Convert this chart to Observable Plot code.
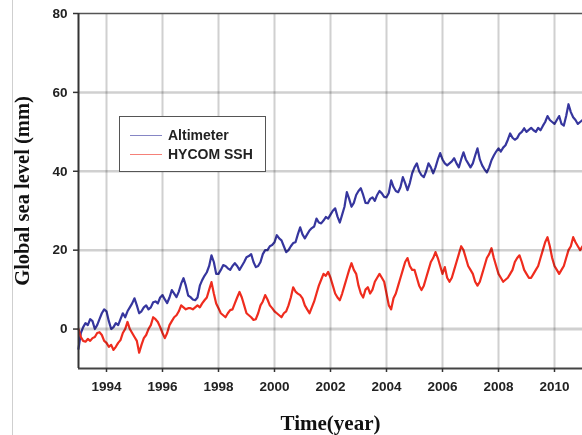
<!DOCTYPE html>
<html>
<head>
<meta charset="utf-8">
<script src="https://cdn.jsdelivr.net/npm/d3@7"></script>
<script src="https://cdn.jsdelivr.net/npm/@observablehq/plot@0.6"></script>
<style>
  html, body { margin: 0; padding: 0; background: #fff; }
  #wrap { position: relative; width: 582px; height: 435px; overflow: hidden; }
  #border { position: absolute; left: 12px; top: 0; width: 0; height: 435px; border-left: 1px solid #cfcfcf; }
  #legend { position: absolute; left: 119px; top: 116px; width: 145px; height: 54px; border: 1.5px solid #555; background: #fff;
            font-family: "Liberation Sans", Arial, sans-serif; font-weight: bold; font-size: 14px; color: #222; }
  .sw { position: absolute; left: 10px; width: 32px; height: 0; }
  .lb { position: absolute; left: 48px; line-height: 14px; }
</style>
</head>
<body>
<div id="wrap">
  <div id="chart"></div>
  <div id="border"></div>
  <div id="legend"></div>
</div>
<script>
const startYear = 1993;
const stepsPerYear = 12;
const seriesNames = ["Altimeter", "HYCOM SSH"];
const seriesColors = ["#36369e", "#ef2c1e"];
const xTicks = [1994, 1996, 1998, 2000, 2002, 2004, 2006, 2008, 2010];
const yTicks = [0, 20, 40, 60, 80];
const xLabel = "Time(year)";
const yLabel = "Global sea level (mm)";

// Altimeter, monthly from Jan 1993
const altimeter = [
  -5, -1, 0.5, 1.5, 1, 2.5, 2, 0, 1, 2.5, 4, 5,
  4.5, 2, 0, 0.5, 1.5, 1, 2.5, 4, 3, 4.5, 5.5, 6.5,
  7.8, 6, 4, 4.5, 5.5, 6, 5, 5.5, 6.8, 7, 6.5, 8,
  8.6, 7.5, 6.6, 8, 9.9, 9, 8.1, 9.5, 11.5, 12.9, 11, 8.5,
  8.1, 7.5, 7.3, 8, 11, 12.4, 13.5, 14.4, 16, 18.7, 17, 14,
  14, 15, 16.2, 16, 15.4, 15, 16, 16.7, 16, 15, 16, 17,
  18.2, 18.5, 19, 17, 15.7, 16, 17, 19, 20, 20, 21, 21.3,
  22, 23.8, 23, 22.5, 21, 19.5, 20, 21, 21.8, 22, 24, 25.8,
  24, 23, 24, 25, 25.6, 26, 28, 27, 26.8, 27.5, 28.4, 28,
  29, 30, 30.6, 28.5, 27, 29, 31, 34.7, 33, 31, 32, 34,
  35, 35.7, 34, 32, 31.9, 33, 33.4, 32.5, 34, 35, 34.4, 33.5,
  33.4, 34.5, 37.7, 36, 35, 34.7, 36, 38.5, 37, 35.2, 37, 39.5,
  41, 42, 40, 39, 38.5, 40, 42, 41, 39.5, 41, 43, 44.6,
  43, 42, 41.5, 42, 42.5, 43.3, 42, 41, 43, 44.8, 43, 42,
  41, 42, 44, 45.8, 43, 41.5, 40.5, 39.7, 41, 42.8, 44, 45,
  45.8, 45, 46, 46.6, 48, 49.6, 48.5, 48, 48.4, 49.5, 50, 50.9,
  50, 50.5, 51, 50.4, 50, 51, 50.4, 51.5, 52.5, 54, 53, 52.5,
  52, 53, 54, 52, 51.6, 54, 57, 55, 53.7, 53, 52, 52.5,
  53
];

// HYCOM SSH, monthly from Jan 1993
const hycom = [
  0, -2, -3, -3.2, -2.5, -3, -2.3, -2, -1, -0.8, -1.5, -3,
  -3.5, -4.5, -4, -5.3, -4.5, -3.5, -2.8, -1, 0, 1.8, 0, -1,
  -2, -3, -6, -4, -2.3, -1.5, 0, 1, 3, 2.5, 1.8, 0.5,
  -1, -2.3, -1, 1, 2, 3, 3.5, 4.5, 6, 5.5, 5, 5.3,
  5.3, 5, 5.5, 6, 5.5, 6.5, 7.3, 8, 10, 11.9, 9, 6.5,
  5.3, 4, 3.5, 3, 4, 4.8, 5, 6.5, 8, 9.4, 8, 6,
  4, 3.5, 3, 2.3, 2.5, 4, 6, 7, 8.6, 7.5, 6, 5.3,
  4.5, 4, 3.5, 3, 4, 4.5, 6, 8, 10.6, 9.5, 9, 8.6,
  7.8, 6, 5, 4, 5.5, 7, 9, 11, 12.5, 14, 13.5, 14.5,
  13, 11, 9, 8, 7.3, 9, 11, 13, 15, 16.7, 15, 14,
  11, 9, 8, 10, 10.6, 9, 10, 12, 13, 14, 13, 12,
  9, 6, 5, 7.8, 9, 11, 13, 15, 17, 18, 16, 15,
  15, 13, 11, 9.9, 11, 13, 15, 17, 18, 19.5, 18, 16,
  14, 15.7, 13, 12, 13, 15, 17, 19, 21, 20, 18, 16,
  15, 14, 12, 11, 12, 14, 16, 18, 19, 20.5, 18, 16,
  14, 13, 12, 12.5, 13, 14, 15, 17, 18, 18.7, 17, 15,
  14, 13, 13, 14, 15, 16, 18, 20, 22, 23.3, 21, 18,
  16, 15, 14, 15, 16, 18, 20, 21, 23.3, 22, 21, 20,
  21
];

const data = [
  ...altimeter.map((v, i) => ({t: startYear + i / stepsPerYear, v, s: seriesNames[0]})),
  ...hycom.map((v, i) => ({t: startYear + i / stepsPerYear, v, s: seriesNames[1]}))
];

const gridColor = "#d0d0d0";

const chart = Plot.plot({
  width: 582,
  height: 435,
  marginTop: 13,
  marginBottom: 67,
  marginLeft: 78,
  marginRight: 0,
  style: {fontFamily: "'Liberation Sans', Arial, sans-serif", fontWeight: "bold", fontSize: "13.5px", color: "#222"},
  x: {domain: [1993, 2011]},
  y: {domain: [-10, 80]},
  color: {domain: seriesNames, range: seriesColors},
  marks: [
    Plot.line(data, {x: "t", y: "v", z: "s", stroke: "s", strokeWidth: 2.2}),
    Plot.ruleX(xTicks, {stroke: gridColor, strokeWidth: 2, mixBlendMode: "multiply"}),
    Plot.ruleY([20, 40, 60], {stroke: gridColor, strokeWidth: 2.5, mixBlendMode: "multiply"}),
    Plot.ruleY([0], {stroke: gridColor, strokeWidth: 3, mixBlendMode: "multiply"}),
    Plot.ruleY([80], {stroke: "#555", strokeWidth: 1.5}),
    Plot.ruleY([-10], {stroke: "#444", strokeWidth: 2}),
    Plot.ruleX([1993], {stroke: "#333", strokeWidth: 2}),
    Plot.axisX(xTicks, {tickSize: 4, tickPadding: 9, tickFormat: d => String(d), label: null, stroke: "#333", strokeWidth: 1.5}),
    Plot.axisY(yTicks, {tickSize: 5, tickPadding: 6, label: null, stroke: "#333", strokeWidth: 1.5}),
    Plot.text([xLabel], {frameAnchor: "bottom", dy: 55, lineAnchor: "middle", fontFamily: "'Liberation Serif', 'Times New Roman', serif", fontWeight: "bold", fontSize: 21, fill: "#111"}),
    Plot.text([yLabel], {frameAnchor: "left", dx: -56, rotate: -90, textAnchor: "middle", lineAnchor: "middle", fontFamily: "'Liberation Serif', 'Times New Roman', serif", fontWeight: "bold", fontSize: 20.5, fill: "#111"})
  ]
});
document.getElementById("chart").appendChild(chart);

const legend = document.getElementById("legend");
const rowTops = [18, 37];
seriesNames.forEach((name, i) => {
  const sw = document.createElement("div");
  sw.className = "sw";
  sw.style.top = rowTops[i] + "px";
  sw.style.borderTop = "1.5px solid " + seriesColors[i];
  sw.style.opacity = "0.6";
  legend.appendChild(sw);
  const lb = document.createElement("div");
  lb.className = "lb";
  lb.style.top = (rowTops[i] - 7) + "px";
  lb.textContent = name;
  legend.appendChild(lb);
});
</script>
</body>
</html>
